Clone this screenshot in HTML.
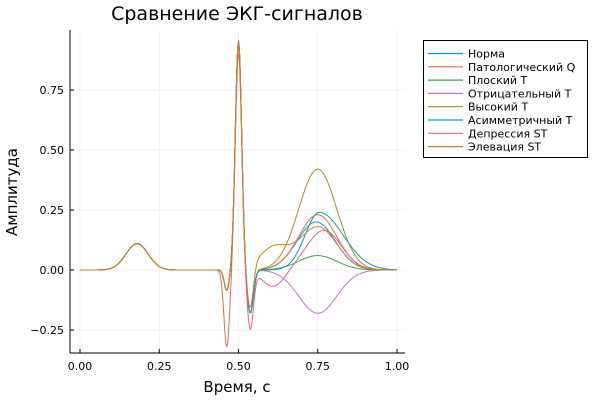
<!DOCTYPE html>
<html><head><meta charset="utf-8"><style>
body{margin:0;background:#fff}
svg{font-family:"DejaVu Sans","Liberation Sans",sans-serif}
</style></head><body>
<svg id="s" width="600" height="400" viewBox="0 0 600 400">
<rect width="600" height="400" fill="#fff"/>
<g stroke="#000" stroke-opacity="0.1" stroke-width="0.5">
<line x1="80" y1="30" x2="80" y2="353"/><line x1="159.25" y1="30" x2="159.25" y2="353"/><line x1="238.5" y1="30" x2="238.5" y2="353"/><line x1="317.75" y1="30" x2="317.75" y2="353"/><line x1="397" y1="30" x2="397" y2="353"/>
<line x1="70" y1="90" x2="405" y2="90"/><line x1="70" y1="150" x2="405" y2="150"/><line x1="70" y1="210" x2="405" y2="210"/><line x1="70" y1="270" x2="405" y2="270"/><line x1="70" y1="330" x2="405" y2="330"/>
</g>
<g stroke="#000" stroke-width="1">
<line x1="70" y1="30" x2="70" y2="353"/><line x1="70" y1="353" x2="405" y2="353"/>
<line x1="80" y1="353" x2="80" y2="349"/><line x1="159.25" y1="353" x2="159.25" y2="349"/><line x1="238.5" y1="353" x2="238.5" y2="349"/><line x1="317.75" y1="353" x2="317.75" y2="349"/><line x1="397" y1="353" x2="397" y2="349"/>
<line x1="70" y1="90" x2="74" y2="90"/><line x1="70" y1="150" x2="74" y2="150"/><line x1="70" y1="210" x2="74" y2="210"/><line x1="70" y1="270" x2="74" y2="270"/><line x1="70" y1="330" x2="74" y2="330"/>
</g>
<g font-size="11" fill="#000" text-anchor="middle">
<text x="80" y="370">0.00</text><text x="159.25" y="370">0.25</text><text x="238.5" y="370">0.50</text><text x="317.75" y="370">0.75</text><text x="397" y="370">1.00</text>
</g>
<g font-size="11" fill="#000" text-anchor="end">
<text x="64" y="94">0.75</text><text x="64" y="154">0.50</text><text x="64" y="214">0.25</text><text x="64" y="274">0.00</text><text x="64" y="334">−0.25</text>
</g>
<text x="237" y="392" font-size="15" text-anchor="middle">Время, с</text>
<text transform="translate(17,192) rotate(-90)" font-size="15" text-anchor="middle">Амплитуда</text>
<text x="237" y="20" font-size="19" text-anchor="middle">Сравнение ЭКГ-сигналов</text>
<g id="curves" fill="none" stroke-width="1"></g>
<rect x="423.5" y="40.5" width="164" height="117" fill="#fff" stroke="#000" stroke-width="1"/>
<g id="leg" font-size="11"></g>
</svg>
<script>
function g(t,m,s,a){return a*Math.exp(-((t-m)*(t-m))/(2*s*s));}
function base(t,o){
 var v=g(t,0.18,0.035,0.11);
 v+=g(t,0.463,o.qs||0.008,o.q||-0.085);
 v+=g(t,0.5,0.01,o.r||0.95);
 v+=g(t,0.537,0.01,o.s||-0.18);
 return v;}
var series=[
 ["Норма","#009af9",function(t){return base(t,{})+g(t,0.745,0.06,0.2);}],
 ["Патологический Q","#e26f46",function(t){return base(t,{q:-0.32,qs:0.009,r:0.9})+g(t,0.75,0.06,0.23);}],
 ["Плоский T","#3ea44e",function(t){return base(t,{})+g(t,0.75,0.06,0.06);}],
 ["Отрицательный T","#c271d2",function(t){return base(t,{})+g(t,0.75,0.06,-0.18);}],
 ["Высокий T","#ac8e18",function(t){return base(t,{})+g(t,0.75,0.06,0.42);}],
 ["Асимметричный T","#00a9ad",function(t){var s=t<0.755?0.045:0.075;return base(t,{})+g(t,0.755,s,0.24);}],
 ["Депрессия ST","#ed5e93",function(t){return base(t,{s:-0.24})+g(t,0.61,0.035,-0.07)+g(t,0.77,0.055,0.165);}],
 ["Элевация ST","#c68225",function(t){return base(t,{})+g(t,0.61,0.045,0.09)+g(t,0.75,0.06,0.18);}]
];
var NS="http://www.w3.org/2000/svg";
var cg=document.getElementById("curves"),lg=document.getElementById("leg");
series.forEach(function(s,i){
 var d="";
 for(var k=0;k<=1000;k++){var t=k/1000;var x=80+t*317,y=270-s[2](t)*240;d+=(k?"L":"M")+x.toFixed(2)+" "+y.toFixed(2);}
 var p=document.createElementNS(NS,"path");p.setAttribute("d",d);p.setAttribute("stroke",s[1]);cg.appendChild(p);
 var yy=53.5+i*13.3;
 var l=document.createElementNS(NS,"line");l.setAttribute("x1",428);l.setAttribute("x2",463);l.setAttribute("y1",yy);l.setAttribute("y2",yy);l.setAttribute("stroke",s[1]);l.setAttribute("stroke-width",1.2);lg.appendChild(l);
 var tx=document.createElementNS(NS,"text");tx.setAttribute("x",468);tx.setAttribute("y",yy+4);tx.textContent=s[0];lg.appendChild(tx);
});
</script>
</body></html>
